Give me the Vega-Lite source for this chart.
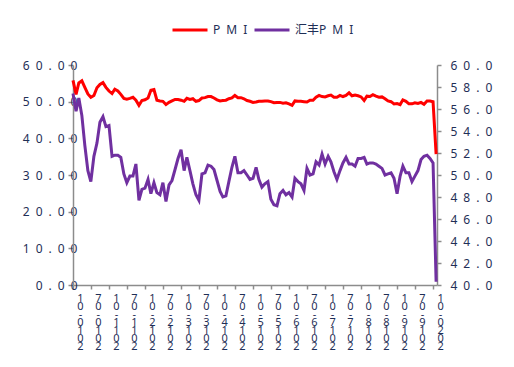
{
  "$schema": "https://vega.github.io/schema/vega-lite/v6.json",
  "autosize": {"type": "none"},
  "padding": {"left": 73, "top": 65, "right": 77, "bottom": 82},
  "width": 364,
  "height": 220,
  "background": "white",
  "config": {
    "view": {"stroke": null},
    "font": "Noto Sans, Noto Sans CJK SC",
    "axis": {
      "grid": false,
      "domainColor": "#8c8c8c",
      "domainWidth": 1.5,
      "tickColor": "#8c8c8c",
      "tickWidth": 1.5,
      "labelColor": "#1f2f57",
      "labelFont": "Noto Sans, Noto Sans CJK SC",
      "labelFontSize": 12,
      "title": null
    }
  },
  "data": {
    "values": [
      {"date": "2010/01/01", "pmi": 55.8, "hsbc": 57.4},
      {"date": "2010/02/01", "pmi": 52.0, "hsbc": 55.8},
      {"date": "2010/03/01", "pmi": 55.1, "hsbc": 57.0},
      {"date": "2010/04/01", "pmi": 55.7, "hsbc": 55.4},
      {"date": "2010/05/01", "pmi": 53.9, "hsbc": 52.7},
      {"date": "2010/06/01", "pmi": 52.1, "hsbc": 50.4},
      {"date": "2010/07/01", "pmi": 51.2, "hsbc": 49.4},
      {"date": "2010/08/01", "pmi": 51.7, "hsbc": 51.7},
      {"date": "2010/09/01", "pmi": 53.8, "hsbc": 52.9},
      {"date": "2010/10/01", "pmi": 54.7, "hsbc": 54.8},
      {"date": "2010/11/01", "pmi": 55.2, "hsbc": 55.3},
      {"date": "2010/12/01", "pmi": 53.9, "hsbc": 54.4},
      {"date": "2011/01/01", "pmi": 52.9, "hsbc": 54.5},
      {"date": "2011/02/01", "pmi": 52.2, "hsbc": 51.7},
      {"date": "2011/03/01", "pmi": 53.4, "hsbc": 51.8},
      {"date": "2011/04/01", "pmi": 52.9, "hsbc": 51.8},
      {"date": "2011/05/01", "pmi": 52.0, "hsbc": 51.6},
      {"date": "2011/06/01", "pmi": 50.9, "hsbc": 50.1},
      {"date": "2011/07/01", "pmi": 50.7, "hsbc": 49.3},
      {"date": "2011/08/01", "pmi": 50.9, "hsbc": 49.9},
      {"date": "2011/09/01", "pmi": 51.2, "hsbc": 49.9},
      {"date": "2011/10/01", "pmi": 50.4, "hsbc": 51.0},
      {"date": "2011/11/01", "pmi": 49.0, "hsbc": 47.7},
      {"date": "2011/12/01", "pmi": 50.3, "hsbc": 48.7},
      {"date": "2012/01/01", "pmi": 50.5, "hsbc": 48.8},
      {"date": "2012/02/01", "pmi": 51.0, "hsbc": 49.6},
      {"date": "2012/03/01", "pmi": 53.1, "hsbc": 48.3},
      {"date": "2012/04/01", "pmi": 53.3, "hsbc": 49.3},
      {"date": "2012/05/01", "pmi": 50.4, "hsbc": 48.4},
      {"date": "2012/06/01", "pmi": 50.2, "hsbc": 48.2},
      {"date": "2012/07/01", "pmi": 50.1, "hsbc": 49.3},
      {"date": "2012/08/01", "pmi": 49.2, "hsbc": 47.6},
      {"date": "2012/09/01", "pmi": 49.8, "hsbc": 49.1},
      {"date": "2012/10/01", "pmi": 50.2, "hsbc": 49.5},
      {"date": "2012/11/01", "pmi": 50.6, "hsbc": 50.5},
      {"date": "2012/12/01", "pmi": 50.6, "hsbc": 51.5},
      {"date": "2013/01/01", "pmi": 50.4, "hsbc": 52.3},
      {"date": "2013/02/01", "pmi": 50.1, "hsbc": 50.4},
      {"date": "2013/03/01", "pmi": 50.9, "hsbc": 51.6},
      {"date": "2013/04/01", "pmi": 50.6, "hsbc": 50.4},
      {"date": "2013/05/01", "pmi": 50.8, "hsbc": 49.2},
      {"date": "2013/06/01", "pmi": 50.1, "hsbc": 48.2},
      {"date": "2013/07/01", "pmi": 50.3, "hsbc": 47.7},
      {"date": "2013/08/01", "pmi": 51.0, "hsbc": 50.1},
      {"date": "2013/09/01", "pmi": 51.1, "hsbc": 50.2},
      {"date": "2013/10/01", "pmi": 51.4, "hsbc": 50.9},
      {"date": "2013/11/01", "pmi": 51.4, "hsbc": 50.8},
      {"date": "2013/12/01", "pmi": 51.0, "hsbc": 50.5},
      {"date": "2014/01/01", "pmi": 50.5, "hsbc": 49.5},
      {"date": "2014/02/01", "pmi": 50.2, "hsbc": 48.5},
      {"date": "2014/03/01", "pmi": 50.3, "hsbc": 48.0},
      {"date": "2014/04/01", "pmi": 50.4, "hsbc": 48.1},
      {"date": "2014/05/01", "pmi": 50.8, "hsbc": 49.4},
      {"date": "2014/06/01", "pmi": 51.0, "hsbc": 50.7},
      {"date": "2014/07/01", "pmi": 51.7, "hsbc": 51.7},
      {"date": "2014/08/01", "pmi": 51.1, "hsbc": 50.2},
      {"date": "2014/09/01", "pmi": 51.1, "hsbc": 50.2},
      {"date": "2014/10/01", "pmi": 50.8, "hsbc": 50.4},
      {"date": "2014/11/01", "pmi": 50.3, "hsbc": 50.0},
      {"date": "2014/12/01", "pmi": 50.1, "hsbc": 49.6},
      {"date": "2015/01/01", "pmi": 49.8, "hsbc": 49.7},
      {"date": "2015/02/01", "pmi": 49.9, "hsbc": 50.7},
      {"date": "2015/03/01", "pmi": 50.1, "hsbc": 49.6},
      {"date": "2015/04/01", "pmi": 50.1, "hsbc": 48.9},
      {"date": "2015/05/01", "pmi": 50.2, "hsbc": 49.2},
      {"date": "2015/06/01", "pmi": 50.2, "hsbc": 49.4},
      {"date": "2015/07/01", "pmi": 50.0, "hsbc": 47.8},
      {"date": "2015/08/01", "pmi": 49.7, "hsbc": 47.3},
      {"date": "2015/09/01", "pmi": 49.8, "hsbc": 47.2},
      {"date": "2015/10/01", "pmi": 49.8, "hsbc": 48.3},
      {"date": "2015/11/01", "pmi": 49.6, "hsbc": 48.6},
      {"date": "2015/12/01", "pmi": 49.7, "hsbc": 48.2},
      {"date": "2016/01/01", "pmi": 49.4, "hsbc": 48.4},
      {"date": "2016/02/01", "pmi": 49.0, "hsbc": 48.0},
      {"date": "2016/03/01", "pmi": 50.2, "hsbc": 49.7},
      {"date": "2016/04/01", "pmi": 50.1, "hsbc": 49.4},
      {"date": "2016/05/01", "pmi": 50.1, "hsbc": 49.2},
      {"date": "2016/06/01", "pmi": 50.0, "hsbc": 48.6},
      {"date": "2016/07/01", "pmi": 49.9, "hsbc": 50.6},
      {"date": "2016/08/01", "pmi": 50.4, "hsbc": 50.0},
      {"date": "2016/09/01", "pmi": 50.4, "hsbc": 50.1},
      {"date": "2016/10/01", "pmi": 51.2, "hsbc": 51.2},
      {"date": "2016/11/01", "pmi": 51.7, "hsbc": 50.9},
      {"date": "2016/12/01", "pmi": 51.4, "hsbc": 51.9},
      {"date": "2017/01/01", "pmi": 51.3, "hsbc": 51.0},
      {"date": "2017/02/01", "pmi": 51.6, "hsbc": 51.7},
      {"date": "2017/03/01", "pmi": 51.8, "hsbc": 51.2},
      {"date": "2017/04/01", "pmi": 51.2, "hsbc": 50.3},
      {"date": "2017/05/01", "pmi": 51.2, "hsbc": 49.6},
      {"date": "2017/06/01", "pmi": 51.7, "hsbc": 50.4},
      {"date": "2017/07/01", "pmi": 51.4, "hsbc": 51.1},
      {"date": "2017/08/01", "pmi": 51.7, "hsbc": 51.6},
      {"date": "2017/09/01", "pmi": 52.4, "hsbc": 51.0},
      {"date": "2017/10/01", "pmi": 51.6, "hsbc": 51.0},
      {"date": "2017/11/01", "pmi": 51.8, "hsbc": 50.8},
      {"date": "2017/12/01", "pmi": 51.6, "hsbc": 51.5},
      {"date": "2018/01/01", "pmi": 51.3, "hsbc": 51.5},
      {"date": "2018/02/01", "pmi": 50.3, "hsbc": 51.6},
      {"date": "2018/03/01", "pmi": 51.5, "hsbc": 51.0},
      {"date": "2018/04/01", "pmi": 51.4, "hsbc": 51.1},
      {"date": "2018/05/01", "pmi": 51.9, "hsbc": 51.1},
      {"date": "2018/06/01", "pmi": 51.5, "hsbc": 51.0},
      {"date": "2018/07/01", "pmi": 51.2, "hsbc": 50.8},
      {"date": "2018/08/01", "pmi": 51.3, "hsbc": 50.6},
      {"date": "2018/09/01", "pmi": 50.8, "hsbc": 50.0},
      {"date": "2018/10/01", "pmi": 50.2, "hsbc": 50.1},
      {"date": "2018/11/01", "pmi": 50.0, "hsbc": 50.2},
      {"date": "2018/12/01", "pmi": 49.4, "hsbc": 49.7},
      {"date": "2019/01/01", "pmi": 49.5, "hsbc": 48.3},
      {"date": "2019/02/01", "pmi": 49.2, "hsbc": 49.9},
      {"date": "2019/03/01", "pmi": 50.5, "hsbc": 50.8},
      {"date": "2019/04/01", "pmi": 50.1, "hsbc": 50.2},
      {"date": "2019/05/01", "pmi": 49.4, "hsbc": 50.2},
      {"date": "2019/06/01", "pmi": 49.4, "hsbc": 49.4},
      {"date": "2019/07/01", "pmi": 49.7, "hsbc": 49.9},
      {"date": "2019/08/01", "pmi": 49.5, "hsbc": 50.4},
      {"date": "2019/09/01", "pmi": 49.8, "hsbc": 51.4},
      {"date": "2019/10/01", "pmi": 49.3, "hsbc": 51.7},
      {"date": "2019/11/01", "pmi": 50.2, "hsbc": 51.8},
      {"date": "2019/12/01", "pmi": 50.2, "hsbc": 51.5},
      {"date": "2020/01/01", "pmi": 50.0, "hsbc": 51.1},
      {"date": "2020/02/01", "pmi": 35.7, "hsbc": 40.3}
    ]
  },
  "encoding": {
    "x": {
      "field": "date",
      "type": "temporal",
      "scale": {"domain": [{"year": 2010, "month": 1, "date": 1}, {"year": 2020, "month": 2, "date": 10}]},
      "axis": {
        "values": [
          {"year": 2010, "month": 1, "date": 1}, {"year": 2010, "month": 7, "date": 1},
          {"year": 2011, "month": 1, "date": 1}, {"year": 2011, "month": 7, "date": 1},
          {"year": 2012, "month": 1, "date": 1}, {"year": 2012, "month": 7, "date": 1},
          {"year": 2013, "month": 1, "date": 1}, {"year": 2013, "month": 7, "date": 1},
          {"year": 2014, "month": 1, "date": 1}, {"year": 2014, "month": 7, "date": 1},
          {"year": 2015, "month": 1, "date": 1}, {"year": 2015, "month": 7, "date": 1},
          {"year": 2016, "month": 1, "date": 1}, {"year": 2016, "month": 7, "date": 1},
          {"year": 2017, "month": 1, "date": 1}, {"year": 2017, "month": 7, "date": 1},
          {"year": 2018, "month": 1, "date": 1}, {"year": 2018, "month": 7, "date": 1},
          {"year": 2019, "month": 1, "date": 1}, {"year": 2019, "month": 7, "date": 1},
          {"year": 2020, "month": 1, "date": 1}
        ],
        "labelExpr": "reverse(split(timeFormat(datum.value, '%Y-%m'), ''))",
        "labelAngle": 0,
        "labelAlign": "center",
        "labelBaseline": "top",
        "labelLineHeight": 8,
        "labelFontSize": 11,
        "labelOffset": 7,
        "labelPadding": 3,
        "labelFlush": false,
        "labelOverlap": false,
        "tickSize": 4
      }
    }
  },
  "layer": [
    {
      "mark": {"type": "line", "strokeWidth": 3, "color": "#ff0000"},
      "encoding": {
        "y": {
          "field": "pmi",
          "type": "quantitative",
          "scale": {"domain": [0, 60], "nice": false},
          "axis": {
            "orient": "left",
            "values": [0, 10, 20, 30, 40, 50, 60],
            "labelExpr": "join(split(format(datum.value, '.2f'), ''), '\u2002')",
            "tickSize": 5,
            "labelPadding": -9
          }
        },
        "color": {
          "datum": "PMI",
          "type": "nominal",
          "scale": {"domain": ["PMI", "汇丰PMI"], "range": ["#ff0000", "#7030a0"]},
          "legend": {
            "orient": "none",
            "legendX": 98,
            "legendY": -54,
            "direction": "horizontal",
            "title": null,
            "symbolType": "stroke",
            "symbolSize": 1225,
            "symbolStrokeWidth": 3,
            "labelExpr": "replace(datum.label, 'PMI', 'P\u2002M\u2002I')",
            "labelFont": "Noto Sans, Noto Sans CJK SC",
            "labelFontSize": 12,
            "labelColor": "#1f2f57",
            "labelOffset": 4,
            "columnPadding": 0
          }
        }
      }
    },
    {
      "mark": {"type": "line", "strokeWidth": 3, "color": "#7030a0"},
      "encoding": {
        "y": {
          "field": "hsbc",
          "type": "quantitative",
          "scale": {"domain": [40, 60], "nice": false, "zero": false},
          "axis": {
            "orient": "right",
            "values": [40, 42, 44, 46, 48, 50, 52, 54, 56, 58, 60],
            "labelExpr": "join(split(format(datum.value, '.1f'), ''), '\u2002')",
            "tickSize": 4,
            "labelPadding": 9
          }
        },
        "color": {"datum": "汇丰PMI", "type": "nominal"}
      }
    }
  ],
  "resolve": {"scale": {"y": "independent"}}
}
